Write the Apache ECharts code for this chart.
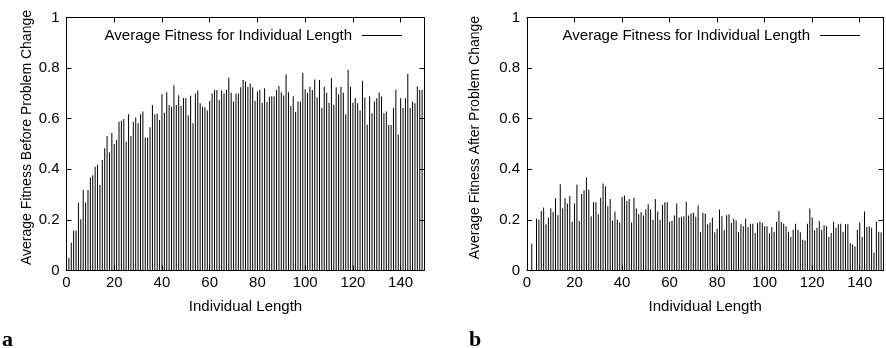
<!DOCTYPE html>
<html>
<head>
<meta charset="utf-8">
<script src="https://cdn.jsdelivr.net/npm/echarts@6/dist/echarts.min.js"></script>
<style>
html,body{margin:0;padding:0;background:#fff;}
#c{width:886px;height:348px;}
</style>
</head>
<body>
<div id="c"></div>
<script>
// Values (individual length 1..150)
const legendName = 'Average Fitness for Individual Length';
const xTitle = 'Individual Length';
const yTitleA = 'Average Fitness Before Problem Change';
const yTitleB = 'Average Fitness After Problem Change';
const panelLabels = ['a', 'b'];

const fitnessBefore = [
  0.049,0.11,0.158,0.158,0.268,0.203,0.318,0.268,0.318,0.368,
  0.376,0.41,0.418,0.338,0.437,0.483,0.532,0.466,0.543,0.5,
  0.517,0.588,0.592,0.599,0.509,0.618,0.532,0.588,0.605,0.582,
  0.618,0.628,0.526,0.526,0.566,0.654,0.618,0.621,0.595,0.697,
  0.624,0.705,0.654,0.647,0.732,0.654,0.693,0.65,0.682,0.682,
  0.614,0.691,0.582,0.7,0.711,0.661,0.647,0.645,0.632,0.67,
  0.70,0.713,0.713,0.674,0.711,0.7,0.713,0.763,0.703,0.668,
  0.7,0.7,0.724,0.753,0.747,0.726,0.739,0.724,0.671,0.708,
  0.713,0.663,0.72,0.666,0.687,0.689,0.689,0.713,0.729,0.705,
  0.692,0.776,0.705,0.65,0.689,0.626,0.668,0.668,0.782,0.716,
  0.703,0.726,0.713,0.755,0.684,0.753,0.642,0.726,0.703,0.663,
  0.761,0.655,0.724,0.697,0.726,0.703,0.618,0.792,0.726,0.663,
  0.682,0.661,0.632,0.75,0.684,0.576,0.689,0.622,0.668,0.681,
  0.704,0.688,0.622,0.628,0.575,0.575,0.642,0.714,0.538,0.681,
  0.642,0.681,0.778,0.642,0.668,0.661,0.727,0.714,0.714,0.754
];

const fitnessAfter = [
  0,0.106,0,0.205,0.201,0.235,0.249,0.183,0.209,0.246,
  0.231,0.286,0.218,0.341,0.246,0.286,0.265,0.294,0.193,0.265,
  0.339,0.196,0.302,0.317,0.368,0.32,0.214,0.27,0.27,0.222,
  0.288,0.344,0.333,0.254,0.283,0.198,0.233,0.201,0.19,0.291,
  0.296,0.275,0.283,0.19,0.288,0.245,0.222,0.231,0.217,0.241,
  0.262,0.241,0.201,0.283,0.233,0.201,0.259,0.27,0.27,0.193,
  0.196,0.217,0.265,0.209,0.212,0.214,0.272,0.217,0.225,0.228,
  0.212,0.257,0.151,0.228,0.225,0.183,0.19,0.209,0.151,0.165,
  0.241,0.214,0.159,0.218,0.222,0.188,0.205,0.198,0.151,0.183,
  0.175,0.205,0.172,0.185,0.185,0.148,0.188,0.193,0.188,0.175,
  0.175,0.146,0.172,0.153,0.193,0.235,0.192,0.185,0.175,0.153,
  0.132,0.161,0.185,0.161,0.151,0.122,0.119,0.185,0.245,0.209,
  0.159,0.169,0.196,0.161,0.179,0.175,0.132,0.148,0.193,0.169,
  0.183,0.185,0.153,0.183,0.183,0.108,0.103,0.095,0.161,0.19,
  0.132,0.233,0.172,0.175,0.169,0.071,0.193,0.153,0.151,0.119
];

const FONT = '"Liberation Sans", Arial, Helvetica, sans-serif';
const toPairs = arr => arr.map((v, i) => [i + 1, v]);

function xAx(grid, pos, showLabels) {
  return {
    type: 'value', gridIndex: grid, position: pos, min: 0, max: 150, interval: 20,
    name: showLabels ? xTitle : '', nameLocation: 'middle', nameGap: 29,
    nameTextStyle: { fontFamily: FONT, fontSize: 15, color: '#000' },
    axisLine: { show: true, onZero: false, lineStyle: { color: '#000', width: 1 } },
    axisTick: { show: true, inside: true, length: 5, lineStyle: { color: '#000' } },
    axisLabel: { show: showLabels, showMaxLabel: false, margin: 5, fontFamily: FONT, fontSize: 15, color: '#000' },
    splitLine: { show: false }
  };
}
function yAx(grid, pos, showLabels, title, gap) {
  return {
    type: 'value', gridIndex: grid, position: pos, min: 0, max: 1, interval: 0.2,
    name: showLabels ? title : '', nameLocation: 'middle', nameGap: gap,
    nameTextStyle: { fontFamily: FONT, fontSize: 14, color: '#000', padding: [0, 0, 0, 13] },
    axisLine: { show: true, onZero: false, lineStyle: { color: '#000', width: 1 } },
    axisTick: { show: true, inside: true, length: 5, lineStyle: { color: '#000' } },
    axisLabel: { show: showLabels, margin: 7, fontFamily: FONT, fontSize: 15, color: '#000',
      formatter: v => String(Math.round(v * 10) / 10) },
    splitLine: { show: false }
  };
}

const chart = echarts.init(document.getElementById('c'), null, { renderer: 'canvas' });
chart.setOption({
  animation: false,
  backgroundColor: '#fff',
  grid: [
    { left: 66.5, right: 461.5, top: 17.5, bottom: 77.5 },
    { left: 527, right: 2.5, top: 17.5, bottom: 77.5 }
  ],
  legend: [
    { data: [legendName], right: 479, top: 23, align: 'right', icon: 'rect', itemWidth: 40, itemHeight: 1,
      itemGap: 0, textStyle: { fontFamily: FONT, fontSize: 15, color: '#000', padding: [0, 5, 0, 0] } },
    { data: [legendName], right: 21, top: 23, align: 'right', icon: 'rect', itemWidth: 40, itemHeight: 1,
      itemGap: 0, textStyle: { fontFamily: FONT, fontSize: 15, color: '#000', padding: [0, 5, 0, 0] } }
  ],
  xAxis: [xAx(0, 'bottom', true), xAx(0, 'top', false), xAx(1, 'bottom', true), xAx(1, 'top', false)],
  yAxis: [yAx(0, 'left', true, yTitleA, 32), yAx(0, 'right', false, '', 0),
          yAx(1, 'left', true, yTitleB, 45), yAx(1, 'right', false, '', 0)],
  series: [
    { name: legendName, type: 'bar', xAxisIndex: 0, yAxisIndex: 0, barWidth: 1,
      itemStyle: { color: '#000' }, data: toPairs(fitnessBefore) },
    { name: legendName, type: 'bar', xAxisIndex: 2, yAxisIndex: 2, barWidth: 1,
      itemStyle: { color: '#000' }, data: toPairs(fitnessAfter) }
  ],
  graphic: [
    { type: 'text', left: 2, top: 329, style: { text: panelLabels[0], font: 'bold 22px "Liberation Serif", "DejaVu Serif", serif', fill: '#000' } },
    { type: 'text', left: 469, top: 329, style: { text: panelLabels[1], font: 'bold 22px "Liberation Serif", "DejaVu Serif", serif', fill: '#000' } }
  ]
});
</script>
</body>
</html>
